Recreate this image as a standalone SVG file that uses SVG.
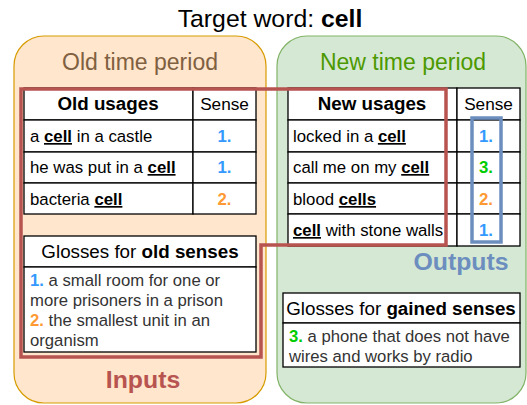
<svg xmlns="http://www.w3.org/2000/svg" width="527" height="405" viewBox="0 0 527 405">
<style>
text{font-family:"Liberation Sans",Arial,sans-serif;}
.t{font-size:16.8px;fill:#000;}
.g{font-size:16.7px;fill:#333;}
.h{font-size:18.8px;font-weight:bold;text-anchor:middle;}
.s{font-size:17.2px;text-anchor:middle;}
.n{font-size:16.8px;font-weight:bold;text-anchor:middle;}
.u{font-weight:bold;text-decoration:underline;}
.cell{fill:#fff;stroke:#000;stroke-width:1.3;}
.b1{fill:#3399ff;}
.b2{fill:#ff9933;}
.b3{fill:#00cc00;}
</style>
<text x="270" y="27" font-size="24.8" text-anchor="middle">Target word: <tspan font-weight="bold">cell</tspan></text>
<g id="old-period">
<rect x="14" y="36" width="252" height="367" rx="30" fill="#ffe6cc" stroke="#d79b00" stroke-width="1.2"/>
<text x="140" y="70" font-size="23" text-anchor="middle" fill="#7f6040">Old time period</text>
</g>
<g id="new-period">
<rect x="277" y="36" width="249" height="367" rx="30" fill="#d5e8d4" stroke="#82b366" stroke-width="1.2"/>
<text x="403" y="70" font-size="23" text-anchor="middle" fill="#4d9900">New time period</text>
</g>
<g id="old-table">
<rect class="cell" x="24" y="88" width="169" height="32"/>
<rect class="cell" x="193" y="88" width="63" height="32"/>
<rect class="cell" x="24" y="120" width="169" height="32"/>
<rect class="cell" x="193" y="120" width="63" height="32"/>
<rect class="cell" x="24" y="152" width="169" height="31"/>
<rect class="cell" x="193" y="152" width="63" height="31"/>
<rect class="cell" x="24" y="183" width="169" height="31"/>
<rect class="cell" x="193" y="183" width="63" height="31"/>
<text class="h" x="108" y="110">Old usages</text>
<text class="s" x="224.5" y="110">Sense</text>
<text class="t" x="30" y="142">a <tspan class="u">cell</tspan> in a castle</text>
<text class="n b1" x="224.5" y="142">1.</text>
<text class="t" x="30" y="173">he was put in a <tspan class="u">cell</tspan></text>
<text class="n b1" x="224.5" y="173">1.</text>
<text class="t" x="30" y="205">bacteria <tspan class="u">cell</tspan></text>
<text class="n b2" x="224.5" y="205">2.</text>
</g>
<g id="old-glosses">
<rect class="cell" x="24" y="236" width="232" height="31"/>
<rect class="cell" x="24" y="267" width="232" height="85"/>
<text x="140" y="258" font-size="18.8" text-anchor="middle">Glosses for <tspan font-weight="bold">old senses</tspan></text>
<text class="g" x="30" y="286"><tspan class="b1" font-weight="bold">1.</tspan> a small room for one or</text>
<text class="g" x="30" y="306">more prisoners in a prison</text>
<text class="g" x="30" y="326"><tspan class="b2" font-weight="bold">2.</tspan> the smallest unit in an</text>
<text class="g" x="30" y="346">organism</text>
</g>
<g id="new-table">
<rect class="cell" x="288" y="88" width="169" height="32"/>
<rect class="cell" x="457" y="88" width="63" height="32"/>
<rect class="cell" x="288" y="120" width="169" height="32"/>
<rect class="cell" x="457" y="120" width="63" height="32"/>
<rect class="cell" x="288" y="152" width="169" height="31"/>
<rect class="cell" x="457" y="152" width="63" height="31"/>
<rect class="cell" x="288" y="183" width="169" height="31"/>
<rect class="cell" x="457" y="183" width="63" height="31"/>
<rect class="cell" x="288" y="214" width="169" height="32"/>
<rect class="cell" x="457" y="214" width="63" height="32"/>
<text class="h" x="372" y="110">New usages</text>
<text class="s" x="488.5" y="110">Sense</text>
<text class="t" x="293" y="142">locked in a <tspan class="u">cell</tspan></text>
<text class="n b1" x="486" y="142">1.</text>
<text class="t" x="293" y="173">call me on my <tspan class="u">cell</tspan></text>
<text class="n b3" x="486" y="173">3.</text>
<text class="t" x="293" y="205">blood <tspan class="u">cells</tspan></text>
<text class="n b2" x="486" y="205">2.</text>
<text class="t" x="293" y="236"><tspan class="u">cell</tspan> with stone walls</text>
<text class="n b1" x="486" y="236">1.</text>
</g>
<g id="new-glosses">
<rect class="cell" x="283" y="293" width="237" height="30"/>
<rect class="cell" x="283" y="323" width="237" height="44"/>
<text x="401" y="315" font-size="18.8" text-anchor="middle">Glosses for <tspan font-weight="bold">gained senses</tspan></text>
<text class="g" x="289" y="342"><tspan class="b3" font-weight="bold">3.</tspan> a phone that does not have</text>
<text class="g" x="289" y="362">wires and works by radio</text>
</g>
<g id="connectors">
<g id="inputs">
<path d="M21,89 H446 V245 H261 V357 H21 Z" fill="none" stroke="#b85450" stroke-width="3.5"/>
<text x="143" y="388" font-size="24.8" font-weight="bold" text-anchor="middle" fill="#b85450">Inputs</text>
</g>
<g id="outputs">
<rect x="472" y="118" width="29" height="124" fill="none" stroke="#6c8ebf" stroke-width="3.5"/>
<text x="461" y="270" font-size="24.8" font-weight="bold" text-anchor="middle" fill="#6c8ebf">Outputs</text>
</g>
</g>
</svg>
